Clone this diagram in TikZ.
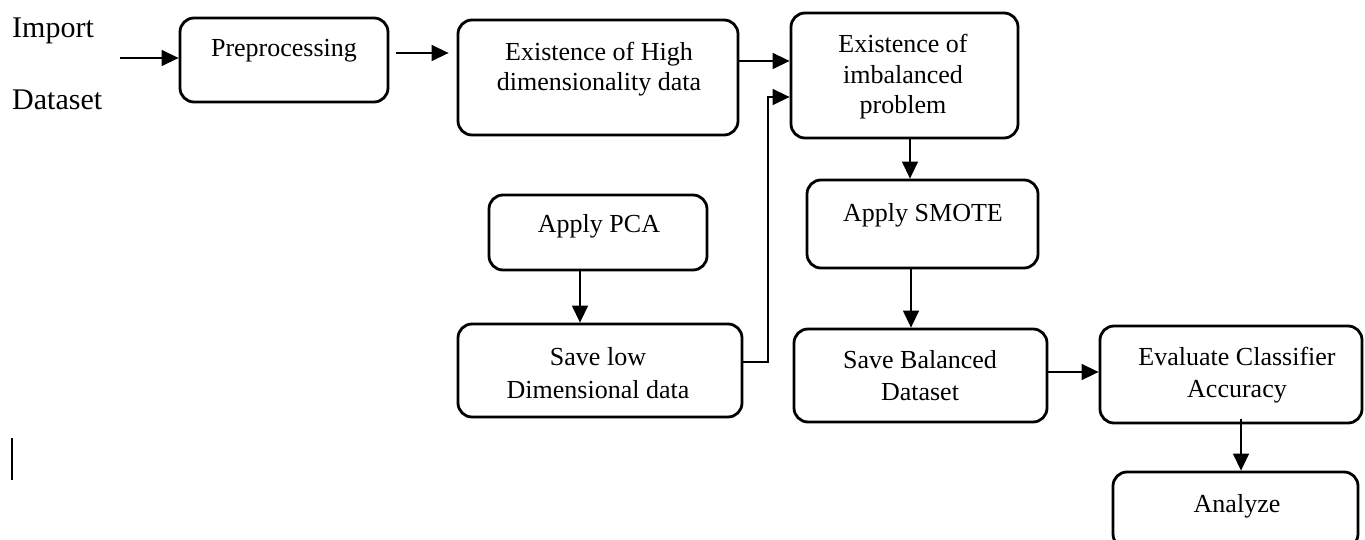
\documentclass[tikz,border=0pt]{standalone}
\usepackage{fontspec}
\setmainfont{Liberation Serif}
\usetikzlibrary{arrows.meta,calc}
\begin{document}
\begin{tikzpicture}[x=1pt,y=-1pt,
  box/.style={draw, line width=2.8pt, rounded corners=14pt, inner sep=0pt},
  txt/.style={anchor=base, inner sep=0pt, font=\fontsize{26}{31}\selectfont},
  big/.style={anchor=base west, inner sep=0pt, font=\fontsize{30}{36}\selectfont},
  arr/.style={line width=1.4pt, -{Triangle[length=17pt,width=16pt]}}]
\useasboundingbox (0,0) rectangle (1365,540);

% boxes
\node[box, minimum width=208pt, minimum height=84pt]  (pre)   at (284,60)    {};
\node[box, minimum width=280pt, minimum height=115pt] (high)  at (598,77.5)  {};
\node[box, minimum width=227pt, minimum height=125pt] (imb)   at (904.5,75.5){};
\node[box, minimum width=218pt, minimum height=75pt]  (pca)   at (598,232.5) {};
\node[box, minimum width=284pt, minimum height=93pt]  (low)   at (600,370.5) {};
\node[box, minimum width=231pt, minimum height=88pt]  (smote) at (922.5,224) {};
\node[box, minimum width=253pt, minimum height=93pt]  (bal)   at (920.5,375.5){};
\node[box, minimum width=262pt, minimum height=97pt]  (eval)  at (1231,374.5){};
\node[box, minimum width=245pt, minimum height=76pt]  (ana)   at (1235.5,510){};

% texts
\node[big] (timp) at (12,38)  {Import};
\node[big] (tdat) at (12,110) {Dataset};
\node[txt] (tpre) at (284,57) {Preprocessing};
\node[txt] (th1) at (599,61) {Existence of High};
\node[txt] (th2) at (599,91) {dimensionality data};
\node[txt] (ti1) at (903,53)  {Existence of};
\node[txt] (ti2) at (903,84)  {imbalanced};
\node[txt] (ti3) at (903,114) {problem};
\node[txt] (tpca) at (599,233) {Apply PCA};
\node[txt] (tl1) at (598,365) {Save low};
\node[txt] (tl2) at (598,398) {Dimensional data};
\node[txt] (tsm) at (923,222) {Apply SMOTE};
\node[txt] (tb1) at (920,368) {Save Balanced};
\node[txt] (tb2) at (920,400) {Dataset};
\node[txt] (te1) at (1237,365) {Evaluate Classifier};
\node[txt] (te2) at (1237,397) {Accuracy};
\node[txt] (tan) at (1237,512) {Analyze};

% connector helpers
\coordinate (in) at (120,58);
\coordinate (r1) at (0,53);
\coordinate (r2) at (0,61);
\coordinate (r3) at (0,372);
\coordinate (k1) at (768,362);
\coordinate (k2) at (768,97);
\coordinate (c1) at (580,0);
\coordinate (c2) at (910,0);
\coordinate (c3) at (911,0);
\coordinate (c4) at (1241,0);

% connectors
\draw[arr] (in) -- (in -| pre.west);
\draw[arr, shorten <=7pt, shorten >=8pt] (pre.east |- r1) -- (high.west |- r1);
\draw[arr] (high.east |- r2) -- (imb.west |- r2);
\draw[arr] (low.east |- k1) -- (k1) -- (k2) -- (k2 -| imb.west);
\draw[arr] (pca.south -| c1) -- (low.north -| c1);
\draw[arr] (imb.south -| c2) -- (smote.north -| c2);
\draw[arr] (smote.south -| c3) -- (bal.north -| c3);
\draw[arr] (bal.east |- r3) -- (eval.west |- r3);
\draw[arr] ($(eval.south -| c4)+(0,-5)$) -- (ana.north -| c4);

% stray bar at left
\draw[line width=1.5pt] (12,438) -- (12,480);
\end{tikzpicture}
\end{document}
